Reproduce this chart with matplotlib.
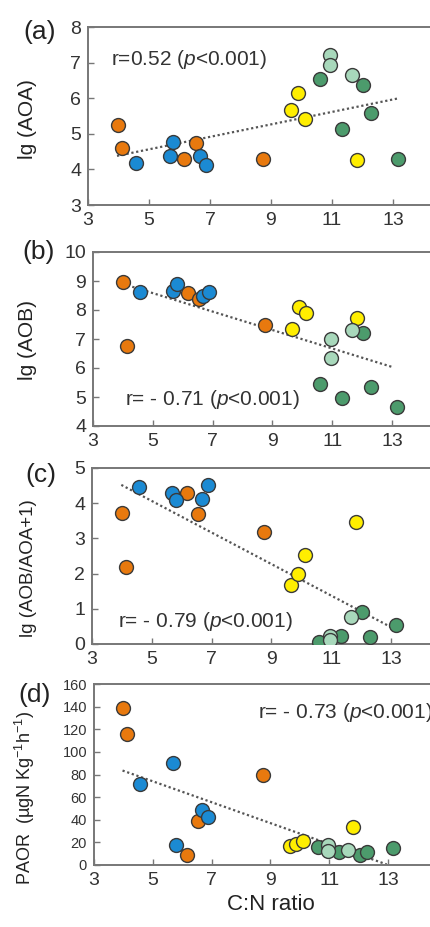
import numpy as np
import matplotlib
matplotlib.use('Agg')
import matplotlib.pyplot as plt

plt.rcParams['font.family'] = ['Liberation Sans', 'DejaVu Sans']
plt.rcParams['mathtext.fontset'] = 'custom'
plt.rcParams['mathtext.rm'] = 'Liberation Sans'
plt.rcParams['mathtext.it'] = 'Liberation Sans:italic'

# C:N ratio for each group of samples
cn_orange = [4.00, 4.12, 6.16, 6.55, 8.75]
cn_blue = [4.57, 5.68, 5.80, 6.68, 6.88]
cn_yellow = [9.65, 9.88, 10.12, 11.82]
cn_dgreen = [10.60, 11.33, 12.03, 12.28, 13.17]
cn_lgreen = [10.95, 10.95, 11.65]

# (a) lg(AOA)
aoa_orange = [5.25, 4.60, 4.30, 4.74, 4.30]
aoa_blue = [4.19, 4.39, 4.78, 4.39, 4.11]
aoa_yellow = [5.68, 6.15, 5.42, 4.25]
aoa_dgreen = [6.55, 5.13, 6.38, 5.58, 4.30]
aoa_lgreen = [7.20, 6.92, 6.64]

# (b) lg(AOB)
aob_orange = [8.95, 6.77, 8.60, 8.38, 7.49]
aob_blue = [8.62, 8.65, 8.88, 8.50, 8.62]
aob_yellow = [7.35, 8.10, 7.90, 7.72]
aob_dgreen = [5.45, 4.96, 7.20, 5.36, 4.65]
aob_lgreen = [7.00, 6.35, 7.30]

# (c) lg(AOB/AOA+1)
rat_orange = [3.73, 2.19, 4.30, 3.69, 3.19]
rat_blue = [4.47, 4.30, 4.10, 4.13, 4.52]
rat_yellow = [1.67, 1.98, 2.52, 3.48]
rat_dgreen = [0.05, 0.24, 0.90, 0.21, 0.54]
rat_lgreen = [0.22, 0.10, 0.78]

# (d) PAOR
paor_orange = [139, 116, 9, 39, 80]
paor_blue = [72, 90, 18, 49, 42]
paor_yellow = [16.5, 19, 21, 34]
paor_dgreen = [16, 11.5, 9, 11.5, 15]
paor_lgreen = [18, 12.5, 13.5]

# dotted trend lines (x start/end, y start/end)
trend_x = [[3.95, 13.2], [4.0, 13.05], [3.98, 13.17], [3.97, 12.95]]
trend_y = [[4.38, 6.0], [8.9, 6.02], [4.52, 0.4], [83.5, 0.5]]

labels = ['r=0.52 ($p$<0.001)', 'r= - 0.71 ($p$<0.001)',
          'r= - 0.79 ($p$<0.001)', 'r= - 0.73 ($p$<0.001)']
ylabels = ['lg (AOA)', 'lg (AOB)', 'lg (AOB/AOA+1)',
           'PAOR  (\u00b5gN Kg$^{-1}$h$^{-1}$)']
panels = ['(a)', '(b)', '(c)', '(d)']

colors = {'orange': '#E8790E', 'blue': '#1B8AD3', 'yellow': '#FFEE00',
          'dgreen': '#4C9B6C', 'lgreen': '#A8D8BB'}

W, H = 431, 927
fig = plt.figure(figsize=(W / 100, H / 100), dpi=100)

# pixel boxes: left, top, bottom, right
boxes = [(88, 27, 205, 454), (93, 252, 426, 452),
         (92, 468, 644, 451), (94, 684, 865, 447)]
ylims = [(3, 8), (4, 10), (0, 5), (0, 160)]
yticks = [np.arange(3, 9), np.arange(4, 11), np.arange(0, 6), np.arange(0, 161, 20)]
text_pos = [(3.75, 7.08), (4.08, 4.91), (3.86, 0.64), (8.57, 135)]
panel_pos = [(23, 32), (22, 252), (25, 475), (18, 695)]
ylab_y = [119, 340, 568, 798]   # label centre, pixels from top
ylab_size = [15, 15, 13.5, 13]

series = [
    [aoa_orange, aoa_blue, aoa_yellow, aoa_dgreen, aoa_lgreen],
    [aob_orange, aob_blue, aob_yellow, aob_dgreen, aob_lgreen],
    [rat_orange, rat_blue, rat_yellow, rat_dgreen, rat_lgreen],
    [paor_orange, paor_blue, paor_yellow, paor_dgreen, paor_lgreen],
]
xs = [cn_orange, cn_blue, cn_yellow, cn_dgreen, cn_lgreen]
cols = [colors['orange'], colors['blue'], colors['yellow'], colors['dgreen'], colors['lgreen']]

for i in range(4):
    l, t, b, r = boxes[i]
    ax = fig.add_axes([l / W, 1 - b / H, (r - l) / W, (b - t) / H])
    ax.plot(trend_x[i], trend_y[i], ls=(0, (1, 1.2)), color='#555555', lw=1.6, zorder=1)
    for x, y, c in zip(xs, series[i], cols):
        ax.scatter(x, y, s=100, color=c, edgecolors='#3a3a3a', linewidths=1.0, zorder=3)
    ax.set_xlim(3, 15)
    ax.set_ylim(*ylims[i])
    ax.set_xticks([3, 5, 7, 9, 11, 13])
    ax.set_yticks(yticks[i])
    for s in ax.spines.values():
        s.set_color('#777777')
        s.set_linewidth(1.4)
    ysize = 10.5 if i == 3 else 14
    ax.tick_params(direction='in', length=4, width=1, color='#777777', labelcolor='#333333')
    ax.tick_params(axis='x', labelsize=14, pad=5)
    ax.tick_params(axis='y', labelsize=ysize, pad=5)
    ax.text(text_pos[i][0], text_pos[i][1], labels[i], fontsize=15, color='#333333',
            ha='left', va='center')
    ax.set_ylabel(ylabels[i], fontsize=ylab_size[i], color='#222222')
    ax.yaxis.set_label_coords((37 - l) / (r - l), (b - ylab_y[i]) / (b - t))
    fig.text(panel_pos[i][0] / W, 1 - panel_pos[i][1] / H, panels[i], fontsize=19,
             color='#222222', ha='left', va='center')
    if i == 3:
        ax.set_xlabel('C:N ratio', fontsize=16, color='#222222', labelpad=4)

fig.savefig('out.png', dpi=100)
